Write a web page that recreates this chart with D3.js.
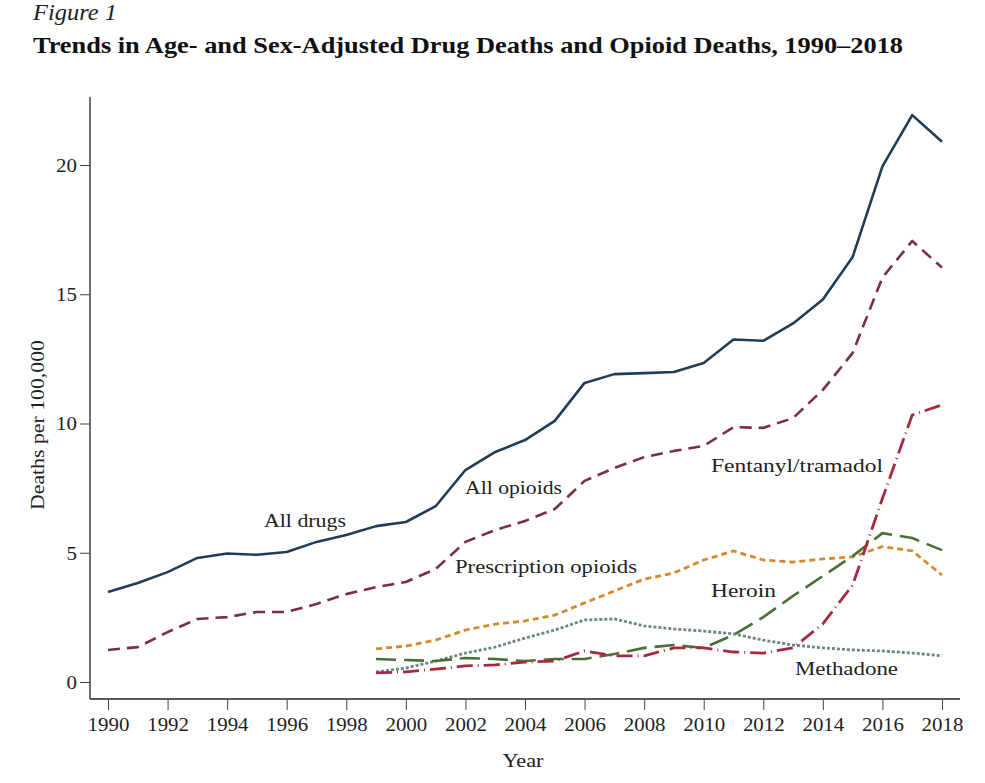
<!DOCTYPE html>
<html><head><meta charset="utf-8">
<script src="https://cdn.jsdelivr.net/npm/d3@7"></script>
<style>body{margin:0;background:#fff}svg{display:block}</style>
</head><body><svg id="c" width="985" height="783"></svg>
<script>
const years = d3.range(1990, 2019);
const years99 = d3.range(1999, 2019);
const allDrugs = [3.48,3.83,4.25,4.8,4.97,4.92,5.03,5.42,5.69,6.03,6.19,6.8,8.2,8.9,9.36,10.1,11.57,11.91,11.95,11.99,12.34,13.25,13.2,13.87,14.8,16.44,19.95,21.93,20.9];
const allOpioids = [1.24,1.35,1.93,2.44,2.51,2.71,2.71,3.02,3.4,3.67,3.87,4.37,5.42,5.88,6.23,6.69,7.78,8.28,8.7,8.94,9.13,9.86,9.83,10.21,11.3,12.73,15.65,17.06,16.03];
const prescription = [1.28,1.39,1.62,2.01,2.24,2.36,2.59,3.06,3.52,3.98,4.22,4.72,5.07,4.72,4.64,4.76,4.84,5.24,5.07,4.14];
const heroin = [0.89,0.85,0.81,0.93,0.89,0.81,0.89,0.89,1.08,1.32,1.43,1.32,1.82,2.51,3.33,4.1,4.87,5.76,5.57,5.1];
const methadone = [0.39,0.54,0.81,1.12,1.35,1.7,2.01,2.4,2.44,2.17,2.05,1.97,1.86,1.62,1.43,1.32,1.24,1.2,1.12,1.01];
const fentanyl = [0.35,0.39,0.5,0.62,0.66,0.77,0.81,1.2,1.01,1.01,1.32,1.32,1.16,1.12,1.32,2.25,3.75,7.1,10.33,10.72];
const xTicks = d3.range(1990, 2019, 2);
const yTicks = [0,5,10,15,20];

const series = [
  {name:"All drugs", x:years, y:allDrugs, color:"#1f3d58", dash:null, w:2.6},
  {name:"All opioids", x:years, y:allOpioids, color:"#7a2f3d", dash:"12,7", w:2.6},
  {name:"Prescription opioids", x:years99, y:prescription, color:"#d38a2c", dash:"6,4", w:2.8},
  {name:"Methadone", x:years99, y:methadone, color:"#6a8585", dash:"3,2", w:2.8},
  {name:"Heroin", x:years99, y:heroin, color:"#4c6e37", dash:"20,8", w:2.6},
  {name:"Fentanyl/tramadol", x:years99, y:fentanyl, color:"#a52a3e", dash:"16,5,1,5", w:2.8}
];
const labels = [
  {t:"All drugs", x:264, y:527, len:82},
  {t:"All opioids", x:465, y:494, len:97},
  {t:"Prescription opioids", x:455, y:573, len:182},
  {t:"Fentanyl/tramadol", x:711, y:472, len:172},
  {t:"Heroin", x:711, y:597, len:65},
  {t:"Methadone", x:795, y:675, len:103}
];

const svg = d3.select("#c");
const font = "'Liberation Serif','Times New Roman',serif";
const x = d3.scaleLinear().domain([1990,2018]).range([108,942]);
const y = d3.scaleLinear().domain([0,20]).range([682,165]);

function widen(sel, f){ sel.each(function(){ const w=this.getComputedTextLength(); d3.select(this).attr("textLength", w*f).attr("lengthAdjust","spacingAndGlyphs"); }); }

svg.append("text").attr("x",33).attr("y",20).attr("font-family",font).attr("font-style","italic")
  .attr("font-size",23).attr("fill","#222").attr("textLength",84).attr("lengthAdjust","spacingAndGlyphs").text("Figure 1");
svg.append("text").attr("x",33).attr("y",53).attr("font-family",font).attr("font-weight","bold")
  .attr("font-size",22.5).attr("fill","#111").attr("textLength",870).attr("lengthAdjust","spacingAndGlyphs")
  .text("Trends in Age- and Sex-Adjusted Drug Deaths and Opioid Deaths, 1990–2018");

// axes
const ax = svg.append("g").attr("transform","translate(0,699)")
  .call(d3.axisBottom(x).tickValues(xTicks).tickFormat(d3.format("d")).tickSize(11).tickPadding(8).tickSizeOuter(0));
ax.select(".domain").attr("d","M90,0H960");
const ay = svg.append("g").attr("transform","translate(90,0)")
  .call(d3.axisLeft(y).tickValues(yTicks).tickSize(10).tickPadding(3).tickSizeOuter(0));
ay.select(".domain").attr("d","M0,97V699");
svg.selectAll(".tick text").attr("font-family",font).attr("font-size",18.5).attr("fill","#222");
svg.selectAll(".domain").attr("stroke","#222").attr("stroke-width",1.3);
svg.selectAll(".tick line").attr("stroke","#444").attr("stroke-width",1);
ay.selectAll(".tick text").attr("dy","0.35em");
widen(svg.selectAll(".tick text"), 1.13);

svg.append("text").attr("x",523).attr("y",767).attr("text-anchor","middle").attr("font-family",font)
  .attr("font-size",19).attr("fill","#222").attr("textLength",41).attr("lengthAdjust","spacingAndGlyphs").text("Year");
svg.append("text").attr("transform","translate(44,425) rotate(-90)").attr("text-anchor","middle")
  .attr("font-family",font).attr("font-size",19).attr("fill","#222").attr("textLength",170).attr("lengthAdjust","spacingAndGlyphs").text("Deaths per 100,000");

const line = d3.line().x(d=>x(d[0])).y(d=>y(d[1]));
series.forEach(s=>{
  svg.append("path").datum(s.x.map((v,i)=>[v,s.y[i]])).attr("d",line)
    .attr("fill","none").attr("stroke",s.color).attr("stroke-width",s.w)
    .attr("stroke-dasharray",s.dash).attr("stroke-linejoin","round");
});
labels.forEach(l=>{
  svg.append("text").attr("x",l.x).attr("y",l.y).attr("font-family",font).attr("font-size",19.5)
    .attr("fill","#222").attr("textLength",l.len).attr("lengthAdjust","spacingAndGlyphs").text(l.t);
});
</script></body></html>
